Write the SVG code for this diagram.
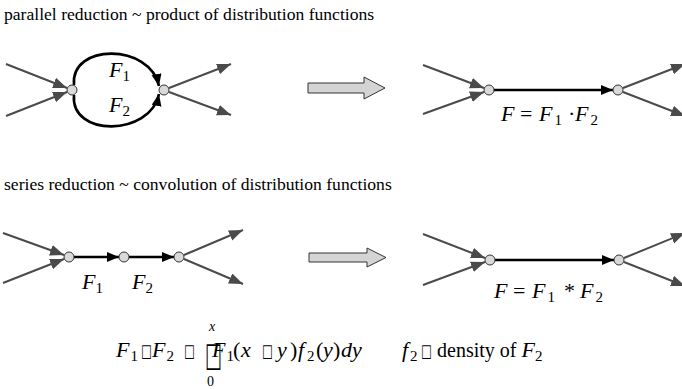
<svg xmlns="http://www.w3.org/2000/svg" width="682" height="389" viewBox="0 0 682 389">
<defs>
<marker id="ga" markerUnits="userSpaceOnUse" markerWidth="15" markerHeight="12" refX="14" refY="5.5" orient="auto">
<path d="M0,0 L14,5.5 L0,11 Z" fill="#4a4a4a"/>
</marker>
<marker id="ba" markerUnits="userSpaceOnUse" markerWidth="14" markerHeight="12" refX="12" refY="5" orient="auto">
<path d="M0,0 L12,5 L0,10 Z" fill="#000"/>
</marker>
<style>
.t{font-family:"Liberation Serif","Times New Roman",serif;font-size:17.6px;fill:#000}
.m{font-family:"Liberation Serif","Times New Roman",serif;font-size:22px;fill:#000}
.bx{font-family:"DejaVu Sans",sans-serif;font-size:18px;fill:#000}
.i{font-style:italic}
.s{font-size:15px}
.g{stroke:#4a4a4a;stroke-width:2;fill:none;marker-end:url(#ga)}
.b{stroke:#000;stroke-width:2.6;fill:none;marker-end:url(#ba)}
.n{fill:#d9d9d9;stroke:#333;stroke-width:1}
.blk{fill:#d4d4d4;stroke:#333;stroke-width:1}
</style>
</defs>

<text class="t" x="4" y="20">parallel reduction ~ product of distribution functions</text>
<text class="t" x="4" y="190">series reduction ~ convolution of distribution functions</text>

<g id="connectors">
<line class="g" x1="6" y1="64" x2="67" y2="88"/>
<line class="g" x1="6" y1="116" x2="67" y2="92"/>
<line class="g" x1="169" y1="88" x2="231" y2="64"/>
<line class="g" x1="169" y1="92" x2="231" y2="115"/>
<path class="b" d="M74,85 C70,43 150,43 159,86"/>
<path class="b" d="M74,95 C70,137 150,137 159,94"/>
<line class="g" x1="423" y1="65" x2="484" y2="88"/>
<line class="g" x1="423" y1="114" x2="484" y2="92"/>
<line class="g" x1="623" y1="88" x2="685" y2="64"/>
<line class="g" x1="623" y1="92" x2="685" y2="116"/>
<line class="b" x1="494" y1="90" x2="613" y2="90"/>
<line class="g" x1="3" y1="233" x2="64" y2="255"/>
<line class="g" x1="3" y1="283" x2="64" y2="259"/>
<line class="g" x1="184" y1="255" x2="243" y2="230"/>
<line class="g" x1="184" y1="259" x2="243" y2="284"/>
<line class="b" x1="74" y1="257" x2="119" y2="257"/>
<line class="b" x1="129" y1="257" x2="174" y2="257"/>
<line class="g" x1="423" y1="234" x2="485" y2="258"/>
<line class="g" x1="423" y1="285" x2="485" y2="262"/>
<line class="g" x1="624" y1="258" x2="685" y2="233"/>
<line class="g" x1="624" y1="262" x2="685" y2="286"/>
<line class="b" x1="495" y1="260" x2="614" y2="260"/>
</g>

<g id="block-arrow-1"><polygon class="blk" points="308,83 364,83 364,77 385,88 364,99 364,93 308,93"/></g>
<g id="block-arrow-2"><polygon class="blk" points="309,253 367,253 367,248 386,257.5 367,267 367,262 309,262"/></g>

<g id="p-in"><circle class="n" cx="72" cy="90" r="5"/></g>
<g id="p-out"><circle class="n" cx="164" cy="90" r="5"/></g>
<g id="pr-in"><circle class="n" cx="489" cy="90" r="5"/></g>
<g id="pr-out"><circle class="n" cx="618" cy="90" r="5"/></g>
<g id="s-in"><circle class="n" cx="69" cy="257" r="5"/></g>
<g id="s-mid"><circle class="n" cx="124" cy="257" r="5"/></g>
<g id="s-out"><circle class="n" cx="179" cy="257" r="5"/></g>
<g id="sr-in"><circle class="n" cx="490" cy="260" r="5"/></g>
<g id="sr-out"><circle class="n" cx="619" cy="260" r="5"/></g>

<g id="labels">
<text class="m" x="109" y="77"><tspan class="i">F</tspan><tspan class="s" dy="4">1</tspan></text>
<text class="m" x="109" y="112"><tspan class="i">F</tspan><tspan class="s" dy="4">2</tspan></text>
<text class="m" y="121"><tspan class="i" x="501">F</tspan><tspan x="520">=</tspan><tspan class="i" x="539">F</tspan><tspan class="s" dx="2" dy="4">1</tspan><tspan x="568" dy="-4">·</tspan><tspan class="i" x="575">F</tspan><tspan class="s" dx="2" dy="4">2</tspan></text>
<text class="m" x="82" y="289"><tspan class="i">F</tspan><tspan class="s" dy="4">1</tspan></text>
<text class="m" x="132" y="289"><tspan class="i">F</tspan><tspan class="s" dy="4">2</tspan></text>
<text class="m" y="298"><tspan class="i" x="494">F</tspan><tspan x="513">=</tspan><tspan class="i" x="532">F</tspan><tspan class="s" dx="2" dy="4">1</tspan><tspan x="564" dy="-4">*</tspan><tspan class="i" x="580">F</tspan><tspan class="s" dx="2" dy="4">2</tspan></text>
</g>

<g id="formula">
<text class="m" y="357"><tspan class="i" x="116">F</tspan><tspan class="s" dx="1" dy="4">1</tspan><tspan class="i" x="152" dy="-4">F</tspan><tspan class="s" dx="1" dy="4">2</tspan></text>
<text class="bx" transform="translate(141,357) scale(0.62,1)">□</text>
<text class="bx" transform="translate(184,357) scale(0.62,1)">□</text>
<text class="bx" transform="translate(205,366) scale(0.53,1)" style="font-size:34px">□</text>
<text class="m i" x="209" y="331" style="font-size:14px">x</text>
<text class="m" x="207" y="386" style="font-size:14px">0</text>
<text class="m" y="357"><tspan class="i" x="212">F</tspan><tspan class="s" dx="1" dy="4">1</tspan><tspan x="233" dy="-4">(</tspan><tspan class="i" x="241">x</tspan><tspan class="i" x="277">y</tspan><tspan x="290">)</tspan><tspan class="i" x="298">f</tspan><tspan class="s" x="307" dy="4">2</tspan><tspan x="316" dy="-4">(</tspan><tspan class="i" x="323">y</tspan><tspan x="333">)</tspan><tspan class="i" x="341">dy</tspan></text>
<text class="bx" transform="translate(262,357) scale(0.62,1)">□</text>
<text class="m" y="357"><tspan class="i" x="402">f</tspan><tspan class="s" x="410" dy="4">2</tspan><tspan x="437" dy="-4" style="font-size:20px">density of </tspan><tspan class="i">F</tspan><tspan class="s" dy="4">2</tspan></text>
<text class="bx" transform="translate(421,357) scale(0.62,1)">□</text>
</g>
</svg>
